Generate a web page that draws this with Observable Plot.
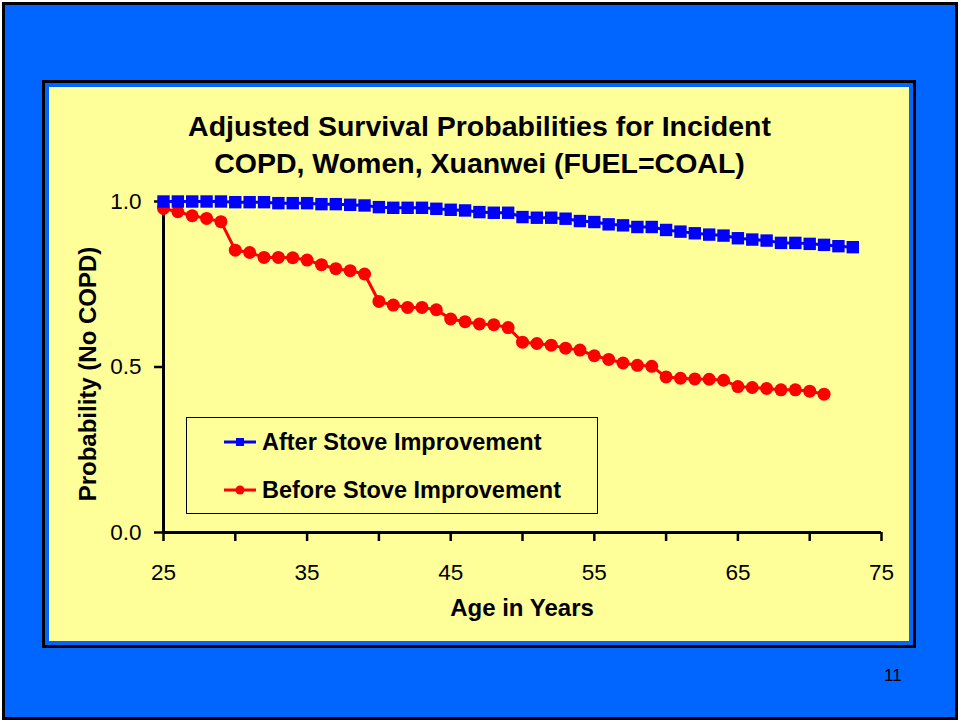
<!DOCTYPE html>
<html>
<head>
<meta charset="utf-8">
<script src="https://cdn.jsdelivr.net/npm/d3@7"></script>
<script src="https://cdn.jsdelivr.net/npm/@observablehq/plot@0.6"></script>
<style>
  html, body { margin: 0; padding: 0; width: 960px; height: 722px; overflow: hidden; background: #ffffff; }
  body { font-family: "Liberation Sans", Arial, Helvetica, sans-serif; color: #000; }
  #slide { position: absolute; left: 2px; top: 2px; width: 950px; height: 712px; border: 3px solid #000; background: #0066ff; }
  #frame { position: absolute; left: 45px; top: 83px; width: 860px; height: 554px; border: 4px solid #0066ff; outline: 3px solid #000; background: #ffff99; }
  #chart { position: absolute; left: 50px; top: 87px; }
  .title { position: absolute; left: 50px; top: 108px; width: 859px; text-align: center; font-weight: bold; font-size: 28.5px; line-height: 37px; }
  .ylabel { position: absolute; left: 88px; top: 374px; transform: translate(-50%, -50%) rotate(-90deg); white-space: nowrap; font-weight: bold; font-size: 24px; }
  .xlabel { position: absolute; left: 522px; top: 608px; transform: translate(-50%, -50%); white-space: nowrap; font-weight: bold; font-size: 24px; }
  #legend { position: absolute; left: 186px; top: 417px; width: 410px; height: 95px; border: 1px solid #000; }
  .item { position: absolute; left: 37px; height: 30px; display: flex; align-items: center; font-weight: bold; font-size: 23.5px; white-space: nowrap; }
  .item svg { margin-right: 6px; }
  #page { position: absolute; left: 884px; top: 666px; font-size: 17px; }
</style>
</head>
<body>
<div id="slide"></div>
<div id="frame"></div>
<div class="title">Adjusted Survival Probabilities for Incident<br>COPD, Women, Xuanwei (FUEL=COAL)</div>
<div id="chart"></div>
<div class="ylabel">Probability (No COPD)</div>
<div class="xlabel">Age in Years</div>
<div id="legend"></div>
<div id="page">11</div>
<script>
// Survival probability (no COPD) by age, women in Xuanwei using coal
const agesAfter = [25, 26, 27, 28, 29, 30, 31, 32, 33, 34, 35, 36, 37, 38, 39, 40, 41, 42, 43, 44, 45, 46, 47, 48, 49,
  50, 51, 52, 53, 54, 55, 56, 57, 58, 59, 60, 61, 62, 63, 64, 65, 66, 67, 68, 69, 70, 71, 72, 73];
const probAfter = [1.000, 1.000, 1.000, 1.000, 1.000, 0.998, 0.998, 0.998, 0.995, 0.995, 0.995, 0.992, 0.992, 0.990, 0.988,
  0.983, 0.981, 0.981, 0.981, 0.978, 0.975, 0.973, 0.968, 0.966, 0.966, 0.953, 0.951, 0.951, 0.948, 0.941,
  0.938, 0.931, 0.928, 0.923, 0.923, 0.914, 0.909, 0.904, 0.900, 0.897, 0.889, 0.885, 0.882, 0.875, 0.875,
  0.872, 0.869, 0.865, 0.862];

const agesBefore = [25, 26, 27, 28, 29, 30, 31, 32, 33, 34, 35, 36, 37, 38, 39, 40, 41, 42, 43, 44, 45, 46, 47, 48, 49,
  50, 51, 52, 53, 54, 55, 56, 57, 58, 59, 60, 61, 62, 63, 64, 65, 66, 67, 68, 69, 70, 71];
const probBefore = [0.979, 0.969, 0.957, 0.949, 0.939, 0.853, 0.846, 0.831, 0.831, 0.830, 0.823, 0.809, 0.797, 0.791, 0.781,
  0.698, 0.687, 0.680, 0.680, 0.673, 0.645, 0.637, 0.630, 0.628, 0.619, 0.575, 0.571, 0.566, 0.557, 0.551,
  0.534, 0.523, 0.512, 0.505, 0.502, 0.470, 0.466, 0.464, 0.463, 0.460, 0.441, 0.438, 0.435, 0.431, 0.431,
  0.427, 0.418];

const seriesNames = ["After Stove Improvement", "Before Stove Improvement"];
const seriesColors = ["#0000ff", "#ff0000"];
const seriesSymbols = ["square", "circle"];

const xTicks = [25, 30, 35, 40, 45, 50, 55, 60, 65, 70, 75];
const xTickLabels = [25, 35, 45, 55, 65, 75];
const yTicks = [0, 0.5, 1];

const after = agesAfter.map((age, i) => ({age, p: probAfter[i]}));
const before = agesBefore.map((age, i) => ({age, p: probBefore[i]}));

const chart = Plot.plot({
  width: 859,
  height: 554,
  marginLeft: 113,
  marginRight: 28,
  marginTop: 114,
  marginBottom: 109,
  style: {background: "transparent", fontSize: "22.5px", fontFamily: "'Liberation Sans', Arial, sans-serif", color: "#000", overflow: "visible"},
  x: {domain: [25, 75]},
  y: {domain: [0, 1]},
  marks: [
    Plot.axisX({ticks: xTicks, tickFormat: d => xTickLabels.includes(d) ? String(d) : "", tickSize: 9, tickPadding: 23, strokeWidth: 2.5, label: null}),
    Plot.axisY({ticks: yTicks, tickFormat: d3.format(".1f"), tickSize: 9, tickPadding: 13, strokeWidth: 2.5, label: null}),
    Plot.ruleY([0], {stroke: "#000", strokeWidth: 3}),
    Plot.ruleX([25], {stroke: "#000", strokeWidth: 3}),
    Plot.line(before, {x: "age", y: "p", stroke: seriesColors[1], strokeWidth: 3}),
    Plot.dot(before, {x: "age", y: "p", fill: seriesColors[1], r: 6.5, symbol: seriesSymbols[1]}),
    Plot.line(after, {x: "age", y: "p", stroke: seriesColors[0], strokeWidth: 3}),
    Plot.dot(after, {x: "age", y: "p", fill: seriesColors[0], r: 7, symbol: seriesSymbols[0]})
  ]
});
document.getElementById("chart").appendChild(chart);

// Legend: line sample with marker, then series name
const legend = document.getElementById("legend");
seriesNames.forEach((name, i) => {
  const item = document.createElement("div");
  item.className = "item";
  item.style.top = (i === 0 ? 9 : 57) + "px";
  const marker = seriesSymbols[i] === "square"
    ? `<rect x="12" y="4" width="8" height="8" fill="${seriesColors[i]}"/>`
    : `<circle cx="16" cy="8" r="4.5" fill="${seriesColors[i]}"/>`;
  item.innerHTML = `<svg width="32" height="16"><line x1="0" x2="32" y1="8" y2="8" stroke="${seriesColors[i]}" stroke-width="3"/>${marker}</svg><span>${name}</span>`;
  legend.appendChild(item);
});
</script>
</body>
</html>
